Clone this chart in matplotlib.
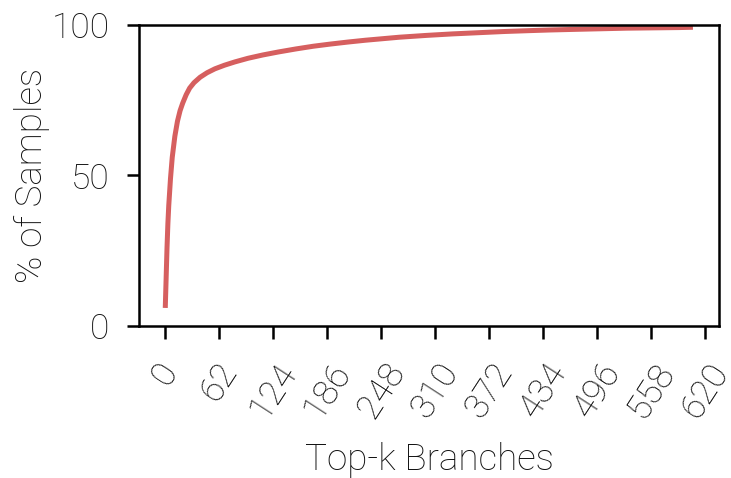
import matplotlib
matplotlib.use("Agg")
import matplotlib.pyplot as plt
import numpy as np

# data
top_k = [0, 1, 2, 3, 4, 6, 8, 11, 14, 17, 20, 24, 28, 33, 40, 48, 57, 68, 80, 95, 112, 130, 150, 170, 189, 210, 230, 269, 300, 330, 360, 390, 420, 442, 470, 500, 530, 560, 590, 606]
pct_samples = [6, 16, 26, 34, 40, 49, 56, 63, 68, 71.5, 74, 76.8, 79, 80.8, 82.6, 84.1, 85.4, 86.6, 87.7, 88.9, 90.0, 91.0, 92.0, 92.9, 93.6, 94.3, 94.9, 95.9, 96.5, 97.0, 97.4, 97.8, 98.1, 98.3, 98.5, 98.7, 98.9, 99.0, 99.1, 99.2]
xticks = [0, 62, 124, 186, 248, 310, 372, 434, 496, 558, 620]
yticks = [0, 50, 100]

plt.rcParams['font.family'] = ['Roboto', 'DejaVu Sans']

W = 'light'
fig = plt.figure(figsize=(7.31, 4.78), dpi=100)
ax = fig.add_axes([0.190, 0.318, 0.794, 0.630])
ax.plot(top_k, pct_samples, color='#d65f5f', lw=3.6, solid_capstyle='butt')
ax.set_xlim(-30.3, 636.3)
ax.set_ylim(0, 100)
ax.set_xticks(xticks)
ax.set_yticks(yticks)
ax.set_xticklabels([str(t) for t in xticks], rotation=57, fontsize=25.5, fontweight=W, color='#111111')
ax.set_yticklabels([str(t) for t in yticks], fontsize=25.5, fontweight=W, color='#111111')
ax.set_xlabel('Top-k Branches', fontsize=26.5, fontweight=W, color='#111111', labelpad=13)
ax.set_ylabel('% of Samples', fontsize=26.5, fontweight=W, color='#111111', labelpad=1)
for s in ax.spines.values():
    s.set_linewidth(1.8)
ax.tick_params(axis='x', direction='out', length=9, width=1.8, pad=13)
ax.tick_params(axis='y', direction='out', length=9, width=1.8, pad=12)
fig.savefig('out.png', dpi=100)
